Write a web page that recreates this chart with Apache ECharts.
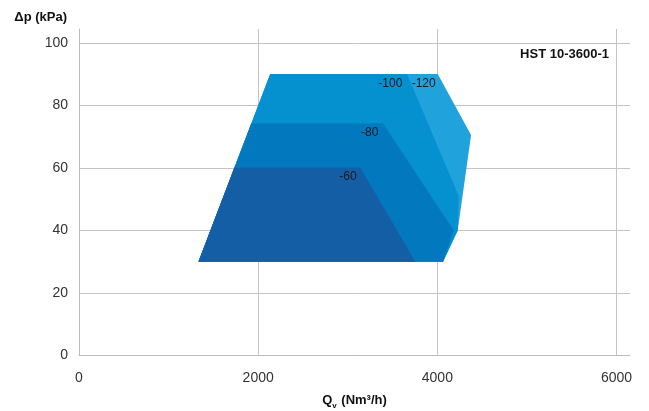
<!DOCTYPE html>
<html>
<head>
<meta charset="utf-8">
<script src="https://cdn.jsdelivr.net/npm/echarts@6/dist/echarts.min.js"></script>
<style>html,body{margin:0;padding:0;background:#fff;}#c{width:649px;height:411px;}</style>
</head>
<body>
<div id="c"></div>
<script>
var levels = ['-120', '-100', '-80', '-60'];
var poly120 = [[1333,30],[2134,90],[4004,90],[4376,70.5],[4227,40],[4063,30]];
var poly100 = [[1333,30],[2134,90],[3661,90],[4238,51],[4227,40],[4063,30]];
var poly80  = [[1333,30],[1923,74.2],[3393,74.2],[4182,40],[4063,30]];
var poly60  = [[1333,30],[1733,60],[3140,60],[3754,30]];
var labelPos = [[3847,87],[3475,87],[3245,71.4],[3002,57.2]];
var xTicks = [0, 2000, 4000, 6000];
var yTicks = [0, 20, 40, 60, 80, 100];
var polygons = [poly120, poly100, poly80, poly60];
var colors = ['#20a2dc', '#0590cf', '#0278be', '#145ea5'];
var FONT = 'Liberation Sans, Arial, Helvetica, sans-serif';

var chart = echarts.init(document.getElementById('c'));
chart.setOption({
  animation: false,
  title: {
    text: 'HST 10-3600-1',
    right: 40, top: 48, padding: 0,
    textStyle: {fontFamily: FONT, fontSize: 13, fontWeight: 'bold', color: '#111'}
  },
  grid: {left: 79, right: 19, top: 29, bottom: 55.5, containLabel: false, outerBoundsMode: 'none'},
  xAxis: {
    type: 'value', min: 0, max: 6150, interval: 2000,
    name: '{a|Q}{s|v}{a| (Nm³/h)}',
    nameLocation: 'middle', nameGap: 36,
    nameTextStyle: {
      rich: {
        a: {fontFamily: FONT, fontSize: 13, fontWeight: 'bold', color: '#111'},
        s: {fontFamily: FONT, fontSize: 8, fontWeight: 'bold', color: '#111', verticalAlign: 'bottom', padding: [10, 1, 0, 0]}
      }
    },
    axisLine: {show: true, lineStyle: {color: '#bdbdbd', width: 1}},
    axisTick: {show: false},
    axisLabel: {
      showMaxLabel: false, margin: 16, color: '#333', fontFamily: FONT, fontSize: 14,
      formatter: function (v) { return xTicks.indexOf(v) >= 0 ? String(v) : ''; }
    },
    splitLine: {show: true, showMinLine: false, showMaxLine: false, lineStyle: {color: '#c4c4c4', width: 1}}
  },
  yAxis: {
    type: 'value', min: 0, max: 104.4, interval: 20,
    name: 'Δp (kPa)',
    nameLocation: 'end', nameGap: 5,
    nameTextStyle: {fontFamily: FONT, fontSize: 13, fontWeight: 'bold', color: '#111', align: 'right', padding: [0, 12, 0, 0]},
    axisLine: {show: true, lineStyle: {color: '#bdbdbd', width: 1}},
    axisTick: {show: false},
    axisLabel: {
      showMaxLabel: false, margin: 11, color: '#333', fontFamily: FONT, fontSize: 14,
      formatter: function (v) { return yTicks.indexOf(v) >= 0 ? String(v) : ''; }
    },
    splitLine: {show: true, showMinLine: false, showMaxLine: false, lineStyle: {color: '#c4c4c4', width: 1}}
  },
  series: [{
    type: 'custom',
    coordinateSystem: 'cartesian2d',
    data: levels.map(function (l, i) { return [labelPos[i][0], labelPos[i][1], i]; }),
    renderItem: function (params, api) {
      var i = params.dataIndex;
      var pts = polygons[i].map(function (p) { return api.coord(p); });
      var lp = api.coord(labelPos[i]);
      return {
        type: 'group',
        children: [
          {type: 'polygon', shape: {points: pts}, style: {fill: colors[i]}},
          {type: 'text', x: lp[0], y: lp[1], z2: 10,
           style: {text: levels[i], fill: '#1a1a1a', font: '12px ' + FONT, align: 'center', verticalAlign: 'middle'}}
        ]
      };
    }
  }]
});
</script>
</body>
</html>
